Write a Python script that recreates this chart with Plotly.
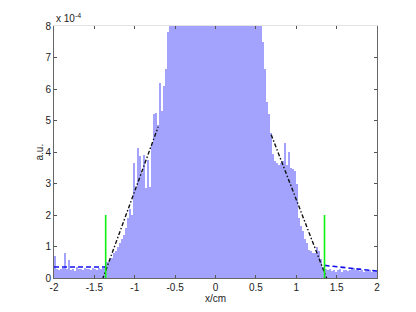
import numpy as np
import plotly.graph_objects as go

# histogram (values in units of 1e-4), 160 bins of width 0.025 from -2 to 2
bin_edges_lo = -2.0
bin_width = 0.025
left_tail = [0.7, 0.28, 0.25, 0.3, 0.32, 0.78, 0.3, 0.58, 0.27, 0.3, 0.22, 0.35,
             0.28, 0.3, 0.25, 0.32, 0.28, 0.3, 0.26, 0.33, 0.3, 0.27, 0.32, 0.3]
left_flank = [0.32, 0.38, 0.5, 0.6, 0.65, 0.78, 0.85, 1.0, 1.1, 1.25, 1.35, 1.6,
              1.9, 2.2, 2.0, 3.66, 2.85, 4.13, 3.87, 3.34, 3.92, 2.85, 3.76, 2.9,
              4.24, 5.2, 5.25, 4.85, 6.2, 5.3, 6.1, 6.65, 7.8]
core = [8.4, 9.0, 9.6, 10.1, 10.7, 11.2, 11.8, 12.3, 12.8, 13.2, 13.7, 14.1, 14.5,
        14.8, 15.1, 15.4, 15.6, 15.8, 16.0, 16.1, 16.2, 16.3, 16.3, 16.2, 16.1, 16.0,
        15.8, 15.6, 15.4, 15.1, 14.8, 14.5, 14.1, 13.7, 13.2, 12.8, 12.3, 11.8, 11.2,
        10.7, 10.1, 9.6, 9.0, 8.6, 8.3, 8.1]
right_flank = [7.5, 6.65, 5.6, 5.2, 4.6, 3.93, 3.7, 3.66, 3.6, 3.65, 3.7, 4.29,
               3.6, 4.0, 3.5, 3.45, 3.4, 3.0, 1.9, 1.66, 1.5, 1.25, 1.1, 0.9, 0.87,
               0.8, 0.78, 0.97, 0.87, 0.6, 0.35, 0.28]
right_tail = [0.25, 0.3, 0.22, 0.27, 0.2, 0.25, 0.28, 0.18, 0.24, 0.26, 0.22, 0.25,
              0.3, 0.33, 0.27, 0.24, 0.22, 0.25, 0.2, 0.23, 0.21, 0.24, 0.2, 0.22, 0.23]
density_e4 = left_tail + left_flank + core + right_flank + right_tail

# fitted lines
fit_left_x = [-1.40, -0.71]
fit_left_y = [-0.05, 4.8]
fit_right_x = [0.69, 1.38]
fit_right_y = [4.55, -0.03]
base_left_x = [-2.0, -1.36]
base_left_y = [0.35, 0.35]
base_right_x = [1.35, 2.0]
base_right_y = [0.40, 0.22]
cut_left_x = [-1.36, -1.36]
cut_right_x = [1.35, 1.35]
cut_y = [0, 2]

x_ticks = [-2, -1.5, -1, -0.5, 0, 0.5, 1, 1.5, 2]
x_tick_text = ["-2", "-1.5", "-1", "-0.5", "0", "0.5", "1", "1.5", "2"]
y_ticks = [0, 1, 2, 3, 4, 5, 6, 7, 8]

centers = bin_edges_lo + bin_width * (np.arange(len(density_e4)) + 0.5)

fig = go.Figure()
fig.add_trace(go.Bar(x=centers, y=density_e4, width=bin_width,
                     marker=dict(color="#a3a3fd", line=dict(width=0)),
                     showlegend=False))
fig.add_trace(go.Scatter(x=base_left_x, y=base_left_y, mode="lines",
                         line=dict(color="#1010ee", width=1.6, dash="5px,3px"), showlegend=False))
fig.add_trace(go.Scatter(x=base_right_x, y=base_right_y, mode="lines",
                         line=dict(color="#1010ee", width=1.6, dash="5px,3px"), showlegend=False))
fig.add_trace(go.Scatter(x=fit_left_x, y=fit_left_y, mode="lines",
                         line=dict(color="#111111", width=1.4, dash="4px,2px,1.5px,2px"), showlegend=False))
fig.add_trace(go.Scatter(x=fit_right_x, y=fit_right_y, mode="lines",
                         line=dict(color="#111111", width=1.4, dash="4px,2px,1.5px,2px"), showlegend=False))
fig.add_trace(go.Scatter(x=cut_left_x, y=cut_y, mode="lines",
                         line=dict(color="#11ee11", width=1.6), showlegend=False))
fig.add_trace(go.Scatter(x=cut_right_x, y=cut_y, mode="lines",
                         line=dict(color="#11ee11", width=1.6), showlegend=False))

tick_font = dict(family="Liberation Sans, Arial, sans-serif", size=10, color="#222222")

# page body has an 8px margin: plot area targeted at x 54..377, y 24..278 on screen
fig.update_layout(
    width=416, height=312,
    margin=dict(l=46, r=47, t=16, b=42),
    paper_bgcolor="white", plot_bgcolor="white",
    bargap=0,
    xaxis=dict(range=[-2, 2], tickvals=x_ticks, ticktext=x_tick_text,
               ticks="inside", ticklen=3, tickcolor="#555555",
               showline=True, linecolor="#666666", linewidth=1,
               showgrid=False, zeroline=False, tickfont=tick_font),
    xaxis2=dict(range=[-2, 2], overlaying="x", side="top", tickvals=x_ticks,
                ticks="inside", ticklen=3, tickcolor="#555555",
                showline=True, linecolor="#e4e4e4", linewidth=1,
                showticklabels=False, showgrid=False, zeroline=False),
    yaxis=dict(range=[0, 8], tickvals=y_ticks, ticks="inside", ticklen=3,
               tickcolor="#555555", showline=True, linecolor="#666666", linewidth=1,
               mirror="ticks", showgrid=False, zeroline=False, tickfont=tick_font),
    annotations=[
        dict(text="x/cm", x=0.5, y=-0.083, xref="paper", yref="paper",
             showarrow=False, font=tick_font, xanchor="center", yanchor="middle"),
        dict(text="a.u.", x=-0.045, y=0.5, xref="paper", yref="paper", textangle=-90,
             showarrow=False, font=tick_font, xanchor="center", yanchor="middle"),
        dict(text="x 10<sup>-4</sup>", x=0.0, y=1.0, xref="paper", yref="paper",
             showarrow=False, font=tick_font, xanchor="left", yanchor="bottom",
             xshift=0, yshift=0),
    ],
)
# invisible trace to activate top axis
fig.add_trace(go.Scatter(x=[0], y=[0], xaxis="x2", mode="markers",
                         marker=dict(opacity=0), showlegend=False, hoverinfo="skip"))

fig.write_html("out.html")
